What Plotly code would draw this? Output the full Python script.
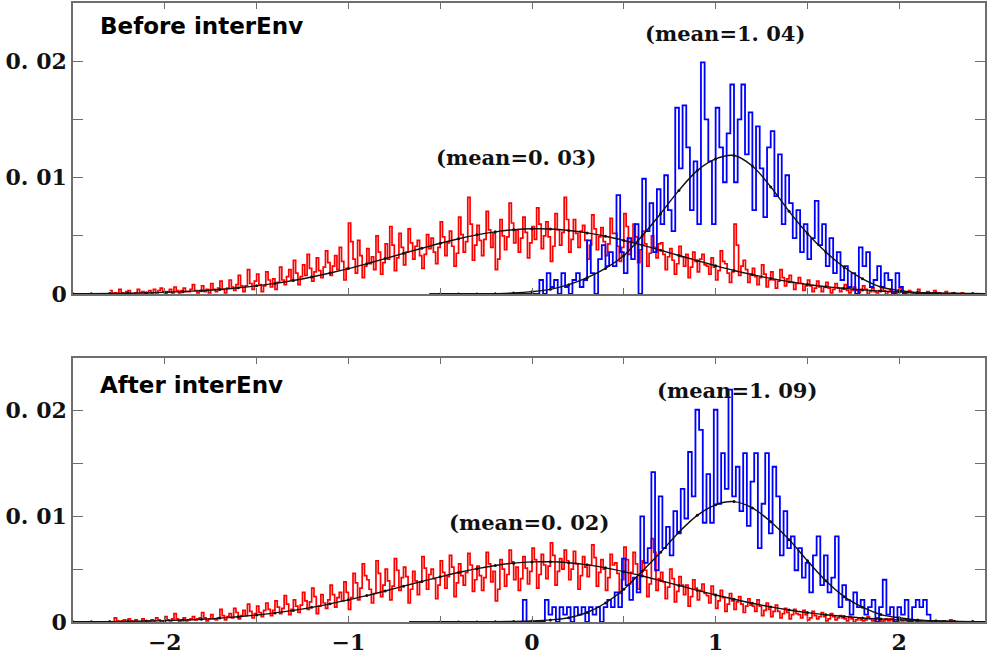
import plotly.graph_objects as go

# ---------------- data ----------------
red_bin = 0.0125
blue_bin = 0.02
red_start = -2.30
fit_x_step = 0.1

# Before interEnv : red histogram (bins from -2.30, width 0.0125)
red_top = [
    0.0003, 0.0000, 0.0001, 0.0000, 0.0004, 0.0001, 0.0000, 0.0002, 0.0003, 0.0000, 0.0000, 0.0001, 0.0004, 0.0001, 0.0002, 0.0000, 0.0001, 0.0003, 0.0000, 0.0004,
    0.0001, 0.0003, 0.0005, 0.0002, 0.0000, 0.0002, 0.0004, 0.0001, 0.0006, 0.0003, 0.0001, 0.0003, 0.0005, 0.0002, 0.0002, 0.0004, 0.0008, 0.0003, 0.0001, 0.0003,
    0.0007, 0.0002, 0.0004, 0.0001, 0.0009, 0.0004, 0.0002, 0.0005, 0.0011, 0.0004, 0.0001, 0.0005, 0.0012, 0.0006, 0.0003, 0.0008, 0.0016, 0.0007, 0.0002, 0.0007,
    0.0021, 0.0009, 0.0004, 0.0011, 0.0017, 0.0008, 0.0002, 0.0007, 0.0019, 0.0012, 0.0006, 0.0013, 0.0004, 0.0010, 0.0023, 0.0012, 0.0008, 0.0015, 0.0021, 0.0012,
    0.0029, 0.0018, 0.0008, 0.0015, 0.0025, 0.0016, 0.0034, 0.0022, 0.0011, 0.0019, 0.0031, 0.0020, 0.0014, 0.0023, 0.0037, 0.0027, 0.0016, 0.0024, 0.0033, 0.0021,
    0.0040, 0.0028, 0.0012, 0.0022, 0.0061, 0.0045, 0.0030, 0.0018, 0.0046, 0.0033, 0.0014, 0.0024, 0.0039, 0.0026, 0.0032, 0.0021, 0.0050, 0.0036, 0.0017, 0.0027,
    0.0043, 0.0030, 0.0058, 0.0042, 0.0020, 0.0031, 0.0052, 0.0040, 0.0025, 0.0036, 0.0056, 0.0044, 0.0030, 0.0041, 0.0046, 0.0033, 0.0022, 0.0034, 0.0051, 0.0039,
    0.0048, 0.0036, 0.0026, 0.0040, 0.0062, 0.0049, 0.0033, 0.0044, 0.0054, 0.0041, 0.0024, 0.0035, 0.0066, 0.0051, 0.0036, 0.0045, 0.0083, 0.0060, 0.0029, 0.0042,
    0.0059, 0.0046, 0.0033, 0.0047, 0.0071, 0.0055, 0.0040, 0.0052, 0.0021, 0.0030, 0.0064, 0.0050, 0.0038, 0.0049, 0.0078, 0.0061, 0.0044, 0.0055, 0.0036, 0.0048,
    0.0066, 0.0053, 0.0031, 0.0044, 0.0058, 0.0047, 0.0074, 0.0060, 0.0039, 0.0050, 0.0062, 0.0049, 0.0028, 0.0041, 0.0069, 0.0055, 0.0042, 0.0053, 0.0083, 0.0064,
    0.0036, 0.0047, 0.0064, 0.0052, 0.0040, 0.0054, 0.0059, 0.0046, 0.0030, 0.0042, 0.0068, 0.0056, 0.0038, 0.0049, 0.0057, 0.0045, 0.0033, 0.0043, 0.0065, 0.0052,
    0.0052, 0.0041, 0.0028, 0.0040, 0.0069, 0.0058, 0.0034, 0.0045, 0.0060, 0.0049, 0.0027, 0.0038, 0.0054, 0.0043, 0.0024, 0.0035, 0.0050, 0.0040, 0.0031, 0.0043,
    0.0044, 0.0034, 0.0021, 0.0032, 0.0039, 0.0029, 0.0017, 0.0026, 0.0041, 0.0032, 0.0024, 0.0034, 0.0014, 0.0023, 0.0036, 0.0028, 0.0019, 0.0030, 0.0034, 0.0025,
    0.0024, 0.0017, 0.0031, 0.0023, 0.0012, 0.0020, 0.0037, 0.0028, 0.0026, 0.0018, 0.0010, 0.0019, 0.0060, 0.0042, 0.0016, 0.0024, 0.0029, 0.0021, 0.0010, 0.0017,
    0.0022, 0.0015, 0.0008, 0.0014, 0.0025, 0.0017, 0.0006, 0.0012, 0.0019, 0.0012, 0.0005, 0.0011, 0.0021, 0.0014, 0.0007, 0.0013, 0.0016, 0.0010, 0.0004, 0.0009,
    0.0014, 0.0009, 0.0003, 0.0007, 0.0012, 0.0007, 0.0002, 0.0005, 0.0011, 0.0006, 0.0002, 0.0006, 0.0010, 0.0005, 0.0001, 0.0004, 0.0009, 0.0005, 0.0002, 0.0005,
    0.0008, 0.0003, 0.0001, 0.0003, 0.0006, 0.0003, 0.0001, 0.0004, 0.0007, 0.0004, 0.0000, 0.0002, 0.0005, 0.0002, 0.0001, 0.0003, 0.0006, 0.0003, 0.0000, 0.0002,
    0.0004, 0.0001, 0.0000, 0.0002, 0.0005, 0.0002, 0.0000, 0.0001, 0.0003, 0.0001, 0.0000, 0.0001, 0.0004, 0.0001, 0.0000, 0.0001, 0.0002, 0.0000, 0.0001, 0.0003,
    0.0000, 0.0001, 0.0000, 0.0000, 0.0002, 0.0000, 0.0000, 0.0001, 0.0000, 0.0000, 0.0000, 0.0001, 0.0000, 0.0000, 0.0000, 0.0000, 0.0000, 0.0000, 0.0000, 0.0000, 0.0000, 0.0000, 0.0000, 0.0000,
]

# Before interEnv : blue histogram (zero from -0.56, bins from 0.04, width 0.02)
blue_top_zero_start = -0.56
blue_top_start = 0.04
blue_top = [
    0.0012, 0.0000, 0.0018, 0.0006, 0.0012, 0.0000, 0.0018, 0.0006, 0.0000, 0.0012,
    0.0018, 0.0006, 0.0012, 0.0046, 0.0018, 0.0000, 0.0030, 0.0042, 0.0024, 0.0036,
    0.0024, 0.0085, 0.0036, 0.0018, 0.0048, 0.0030, 0.0060, 0.0000, 0.0099, 0.0054,
    0.0078, 0.0036, 0.0090, 0.0060, 0.0102, 0.0072, 0.0054, 0.0160, 0.0108, 0.0162,
    0.0126, 0.0072, 0.0114, 0.0060, 0.0199, 0.0150, 0.0114, 0.0060, 0.0160, 0.0126,
    0.0096, 0.0138, 0.0180, 0.0096, 0.0150, 0.0180, 0.0120, 0.0156, 0.0072, 0.0144,
    0.0108, 0.0066, 0.0126, 0.0140, 0.0084, 0.0120, 0.0060, 0.0102, 0.0078, 0.0048,
    0.0072, 0.0036, 0.0060, 0.0030, 0.0048, 0.0080, 0.0042, 0.0060, 0.0024, 0.0048,
    0.0018, 0.0036, 0.0012, 0.0024, 0.0006, 0.0018, 0.0000, 0.0040, 0.0024, 0.0036,
    0.0006, 0.0012, 0.0024, 0.0006, 0.0018, 0.0012, 0.0000, 0.0018, 0.0006, 0.0000,
]

# After interEnv : red histogram (bins from -2.30, width 0.0125)
red_bot = [
    0.0000, 0.0000, 0.0004, 0.0001, 0.0000, 0.0001, 0.0002, 0.0000, 0.0003, 0.0001, 0.0000, 0.0002, 0.0000, 0.0000, 0.0003, 0.0001, 0.0000, 0.0001, 0.0002, 0.0001,
    0.0004, 0.0002, 0.0000, 0.0001, 0.0005, 0.0002, 0.0001, 0.0003, 0.0008, 0.0003, 0.0000, 0.0002, 0.0004, 0.0001, 0.0002, 0.0003, 0.0005, 0.0002, 0.0003, 0.0004,
    0.0009, 0.0004, 0.0001, 0.0003, 0.0007, 0.0003, 0.0002, 0.0004, 0.0012, 0.0006, 0.0002, 0.0005, 0.0008, 0.0004, 0.0013, 0.0009, 0.0003, 0.0006, 0.0011, 0.0006,
    0.0017, 0.0010, 0.0004, 0.0008, 0.0015, 0.0009, 0.0005, 0.0011, 0.0018, 0.0012, 0.0006, 0.0011, 0.0020, 0.0014, 0.0008, 0.0013, 0.0025, 0.0017, 0.0007, 0.0012,
    0.0021, 0.0015, 0.0009, 0.0016, 0.0028, 0.0020, 0.0012, 0.0019, 0.0032, 0.0024, 0.0008, 0.0015, 0.0026, 0.0018, 0.0013, 0.0021, 0.0035, 0.0026, 0.0014, 0.0023,
    0.0028, 0.0020, 0.0038, 0.0028, 0.0012, 0.0023, 0.0046, 0.0037, 0.0021, 0.0032, 0.0055, 0.0044, 0.0040, 0.0031, 0.0018, 0.0027, 0.0058, 0.0046, 0.0024, 0.0035,
    0.0050, 0.0039, 0.0021, 0.0034, 0.0060, 0.0049, 0.0030, 0.0042, 0.0052, 0.0043, 0.0018, 0.0031, 0.0048, 0.0039, 0.0026, 0.0038, 0.0062, 0.0051, 0.0031, 0.0045,
    0.0050, 0.0041, 0.0022, 0.0035, 0.0058, 0.0047, 0.0032, 0.0043, 0.0063, 0.0052, 0.0024, 0.0037, 0.0055, 0.0044, 0.0035, 0.0047, 0.0065, 0.0054, 0.0029, 0.0040,
    0.0053, 0.0044, 0.0030, 0.0042, 0.0066, 0.0055, 0.0038, 0.0048, 0.0020, 0.0031, 0.0059, 0.0050, 0.0034, 0.0045, 0.0068, 0.0057, 0.0040, 0.0052, 0.0030, 0.0041,
    0.0062, 0.0051, 0.0036, 0.0048, 0.0070, 0.0059, 0.0032, 0.0045, 0.0064, 0.0054, 0.0041, 0.0053, 0.0075, 0.0063, 0.0035, 0.0048, 0.0060, 0.0050, 0.0068, 0.0058,
    0.0040, 0.0050, 0.0067, 0.0055, 0.0031, 0.0044, 0.0062, 0.0052, 0.0043, 0.0054, 0.0073, 0.0061, 0.0034, 0.0047, 0.0059, 0.0050, 0.0030, 0.0042, 0.0064, 0.0054,
    0.0056, 0.0046, 0.0027, 0.0040, 0.0071, 0.0059, 0.0036, 0.0047, 0.0066, 0.0055, 0.0031, 0.0044, 0.0058, 0.0049, 0.0024, 0.0036, 0.0079, 0.0066, 0.0030, 0.0041,
    0.0047, 0.0038, 0.0022, 0.0033, 0.0050, 0.0041, 0.0019, 0.0029, 0.0043, 0.0035, 0.0026, 0.0035, 0.0015, 0.0024, 0.0040, 0.0032, 0.0021, 0.0030, 0.0036, 0.0027,
    0.0025, 0.0018, 0.0034, 0.0026, 0.0013, 0.0020, 0.0030, 0.0023, 0.0010, 0.0017, 0.0027, 0.0020, 0.0012, 0.0019, 0.0024, 0.0017, 0.0009, 0.0015, 0.0022, 0.0016,
    0.0015, 0.0010, 0.0021, 0.0015, 0.0006, 0.0011, 0.0018, 0.0012, 0.0005, 0.0010, 0.0016, 0.0010, 0.0004, 0.0008, 0.0013, 0.0009, 0.0003, 0.0007, 0.0012, 0.0008,
    0.0007, 0.0004, 0.0011, 0.0007, 0.0002, 0.0004, 0.0010, 0.0006, 0.0003, 0.0005, 0.0009, 0.0005, 0.0001, 0.0003, 0.0008, 0.0005, 0.0002, 0.0004, 0.0006, 0.0004,
    0.0003, 0.0001, 0.0005, 0.0003, 0.0000, 0.0002, 0.0004, 0.0002, 0.0001, 0.0002, 0.0005, 0.0003, 0.0001, 0.0002, 0.0004, 0.0002, 0.0000, 0.0001, 0.0003, 0.0001,
    0.0003, 0.0001, 0.0000, 0.0000, 0.0002, 0.0001, 0.0003, 0.0001, 0.0000, 0.0000, 0.0002, 0.0000, 0.0000, 0.0001, 0.0000, 0.0000, 0.0001, 0.0000, 0.0000, 0.0000,
    0.0000, 0.0000, 0.0000, 0.0001, 0.0000, 0.0000, 0.0002, 0.0000, 0.0000, 0.0000, 0.0000, 0.0000, 0.0000, 0.0000, 0.0000, 0.0000, 0.0000, 0.0000, 0.0000, 0.0000, 0.0000, 0.0000, 0.0000, 0.0000,
]

# After interEnv : blue histogram (zero from -0.67, bins from -0.05, width 0.02)
blue_bot_zero_start = -0.67
blue_bot_start = -0.05
blue_bot = [
    0.0021, 0.0000, 0.0000, 0.0000, 0.0000, 0.0000, 0.0021, 0.0007, 0.0014, 0.0000,
    0.0014, 0.0007, 0.0014, 0.0000, 0.0014, 0.0007, 0.0014, 0.0000, 0.0014, 0.0007,
    0.0014, 0.0000, 0.0014, 0.0021, 0.0014, 0.0028, 0.0014, 0.0060, 0.0035, 0.0021,
    0.0042, 0.0028, 0.0100, 0.0056, 0.0070, 0.0142, 0.0049, 0.0119, 0.0070, 0.0090,
    0.0063, 0.0105, 0.0084, 0.0126, 0.0098, 0.0161, 0.0119, 0.0201, 0.0182, 0.0094,
    0.0140, 0.0094, 0.0201, 0.0112, 0.0160, 0.0126, 0.0220, 0.0119, 0.0147, 0.0105,
    0.0160, 0.0091, 0.0133, 0.0160, 0.0070, 0.0112, 0.0160, 0.0084, 0.0147, 0.0119,
    0.0063, 0.0105, 0.0070, 0.0081, 0.0049, 0.0070, 0.0042, 0.0056, 0.0028, 0.0063,
    0.0081, 0.0035, 0.0063, 0.0028, 0.0042, 0.0081, 0.0014, 0.0035, 0.0021, 0.0007,
    0.0028, 0.0014, 0.0021, 0.0007, 0.0014, 0.0021, 0.0000, 0.0014, 0.0040, 0.0007,
    0.0014, 0.0000, 0.0014, 0.0007, 0.0021, 0.0000, 0.0014, 0.0021, 0.0014, 0.0021,
    0.0007, 0.0000,
]

# fitted curves (black), sampled every 0.1
red_fit_start = -2.5
red_fit_top = [
    0.00002, 0.00003, 0.000045, 0.000067, 0.0001, 0.000144, 0.0002, 0.000285, 0.00039, 0.00053,
    0.0007, 0.00091, 0.00116, 0.00146, 0.0018, 0.00218, 0.0026, 0.00304, 0.00349, 0.00393,
    0.00436, 0.00475, 0.00508, 0.00534, 0.00552, 0.0056, 0.00558, 0.00546, 0.00525, 0.00496,
    0.0046, 0.0042, 0.00376, 0.00331, 0.00286, 0.00243, 0.00202, 0.00166, 0.00134, 0.00106,
    0.00082, 0.00063, 0.00047, 0.00035, 0.00025, 0.00018, 0.00012, 0.00009, 0.00006, 0.00004,
    0.00002,
]
red_fit_bot = [
    0.00002, 0.00003, 0.00004, 0.00006, 0.00009, 0.00013, 0.00019, 0.00026, 0.00037, 0.0005,
    0.00066, 0.00086, 0.0011, 0.00139, 0.00172, 0.0021, 0.0025, 0.00294, 0.00339, 0.00384,
    0.00428, 0.00469, 0.00505, 0.00535, 0.00557, 0.00569, 0.0057, 0.00561, 0.00541, 0.00513,
    0.00477, 0.00436, 0.00392, 0.00346, 0.003, 0.00256, 0.00215, 0.00177, 0.00143, 0.00114,
    0.00089, 0.00069, 0.00052, 0.00038, 0.00028, 0.0002, 0.00014, 0.0001, 0.00007, 0.00004,
    0.00003,
]
blue_fit_start = -0.5
blue_fit_top = [
    0.0, 0.0, 0.00001, 0.00003, 0.00008, 0.0002, 0.0004, 0.0008, 0.0014, 0.0022,
    0.0033, 0.0050, 0.0069, 0.0089, 0.0106, 0.0116, 0.0119, 0.0110, 0.0092, 0.0071,
    0.0052, 0.0036, 0.0023, 0.0013, 0.0006, 0.0003, 0.0001, 0.00005, 0.00002, 0.00001,
    0.0,
]
blue_fit_bot = [
    0.0, 0.0, 0.00001, 0.00002, 0.00005, 0.0001, 0.0002, 0.0004, 0.0009, 0.0018,
    0.0031, 0.0048, 0.0066, 0.0085, 0.0101, 0.0111, 0.0114, 0.0108, 0.0095, 0.0078,
    0.0058, 0.0039, 0.0024, 0.0014, 0.0007, 0.0004, 0.0002, 0.0001, 0.00004, 0.00002,
    0.0,
]

panel_titles = ["Before interEnv", "After interEnv"]
mean_labels_top = ["(mean=1. 04)", "(mean=0. 03)"]
mean_labels_bot = ["(mean=1. 09)", "(mean=0. 02)"]
x_tick_vals = [-2, -1.5, -1, -0.5, 0, 0.5, 1, 1.5, 2]
x_tick_text = ["\u22122", "", "\u22121", "", "0", "", "1", "", "2"]
y_tick_vals = [0, 0.005, 0.01, 0.015, 0.02]
y_tick_text = ["0", "", "0. 01", "", "0. 02"]

# ---------------- helpers ----------------
def stairs(start, width, vals, zero_start=None):
    xs = [start + i * width for i in range(len(vals))] + [start + len(vals) * width]
    ys = list(vals) + [0.0]
    if zero_start is not None:
        xs = [zero_start] + xs
        ys = [0.0] + ys
    return xs, ys

def samples(start, step, vals):
    return [start + i * step for i in range(len(vals))]

RED = "#ff0000"
BLUE = "#0000ff"
FIT = "#111111"

fig = go.Figure()

def add_panel(xa, ya, red, blue, blue_start, blue_zero, rfit, bfit):
    rx, ry = stairs(red_start, red_bin, red)
    fig.add_trace(go.Scatter(x=rx, y=ry, mode="lines", line=dict(color=RED, width=1.7, shape="hv"),
                             xaxis=xa, yaxis=ya, showlegend=False, hoverinfo="skip"))
    bx, by = stairs(blue_start, blue_bin, blue, blue_zero)
    fig.add_trace(go.Scatter(x=bx, y=by, mode="lines", line=dict(color=BLUE, width=1.8, shape="hv"),
                             xaxis=xa, yaxis=ya, showlegend=False, hoverinfo="skip"))
    for fx0, fvals in ((red_fit_start, rfit), (blue_fit_start, bfit)):
        fig.add_trace(go.Scatter(x=samples(fx0, fit_x_step, fvals), y=fvals, mode="lines+markers",
                                 line=dict(color=FIT, width=1.4, shape="spline"),
                                 marker=dict(size=3, color=FIT),
                                 xaxis=xa, yaxis=ya, showlegend=False, hoverinfo="skip"))

add_panel("x", "y", red_top, blue_top, blue_top_start, blue_top_zero_start, red_fit_top, blue_fit_top)
add_panel("x2", "y2", red_bot, blue_bot, blue_bot_start, blue_bot_zero_start, red_fit_bot, blue_fit_bot)

tick_font = dict(family="DejaVu Serif", size=22, color="#111111", weight="bold")
axis_common = dict(showline=True, linecolor="#6e6e6e", linewidth=1.6, mirror="ticks",
                   ticks="inside", tickcolor="#6e6e6e", showgrid=False, zeroline=False)

xrange = [-2.5, 2.467]
yrange = [0, 0.025]

fig.update_layout(
    width=987, height=659,
    margin=dict(l=73, r=0, t=3, b=37),
    paper_bgcolor="white", plot_bgcolor="white",
    xaxis=dict(range=xrange, domain=[0, 1], anchor="y", tickvals=x_tick_vals, ticktext=x_tick_text,
               showticklabels=False, ticklen=6, **axis_common),
    yaxis=dict(range=yrange, domain=[0.5299, 1.0], anchor="x", tickvals=y_tick_vals, ticktext=y_tick_text,
               tickfont=tick_font, ticklen=10, **axis_common),
    xaxis2=dict(range=xrange, domain=[0, 1], anchor="y2", tickvals=x_tick_vals, ticktext=x_tick_text,
                tickfont=tick_font, ticklen=6, **axis_common),
    yaxis2=dict(range=yrange, domain=[0, 0.4265], anchor="x2", tickvals=y_tick_vals, ticktext=y_tick_text,
                tickfont=tick_font, ticklen=10, **axis_common),
)

title_font = dict(family="DejaVu Sans", size=23, color="black", weight="bold")
mean_font = dict(family="DejaVu Serif", size=21, color="#111111", weight="bold")

fig.add_annotation(text=panel_titles[0], xref="paper", yref="paper", x=0.0274, y=0.9628,
                   xanchor="left", yanchor="middle", showarrow=False, font=title_font)
fig.add_annotation(text=panel_titles[1], xref="paper", yref="paper", x=0.0274, y=0.3829,
                   xanchor="left", yanchor="middle", showarrow=False, font=title_font)

fig.add_annotation(text=mean_labels_top[0], xref="x", yref="y", x=1.049, y=0.0224,
                   showarrow=False, font=mean_font)
fig.add_annotation(text=mean_labels_top[1], xref="x", yref="y", x=-0.087, y=0.0117,
                   showarrow=False, font=mean_font)
fig.add_annotation(text=mean_labels_bot[0], xref="x2", yref="y2", x=1.114, y=0.0219,
                   showarrow=False, font=mean_font)
fig.add_annotation(text=mean_labels_bot[1], xref="x2", yref="y2", x=-0.016, y=0.0094,
                   showarrow=False, font=mean_font)

fig.write_html(
    "out.html",
    config={"displayModeBar": False},
    post_script="document.body.style.margin='0';document.body.style.overflow='hidden';",
)
